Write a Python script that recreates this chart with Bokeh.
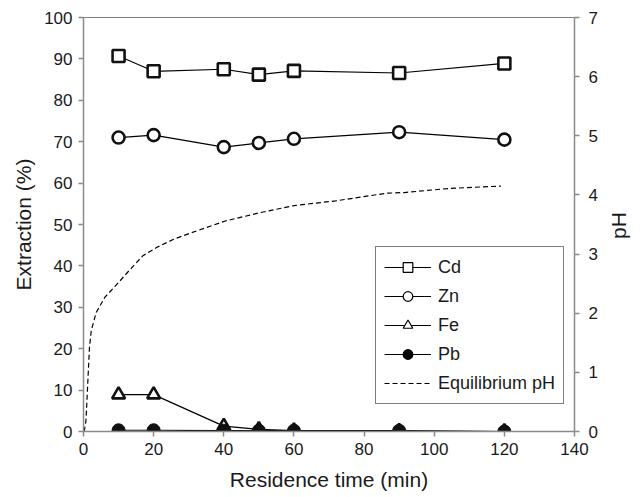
import math
from bokeh.plotting import figure
from bokeh.models import (Range1d, LinearAxis, Legend, LegendItem, Span,
                          ColumnDataSource, FixedTicker, Label)
from bokeh.embed import file_html
from bokeh.resources import INLINE

# ---- data ----
time_min = [10, 20, 40, 50, 60, 90, 120]
cd = [90.7, 87.0, 87.5, 86.2, 87.1, 86.6, 88.9]
zn = [71.0, 71.6, 68.7, 69.7, 70.7, 72.3, 70.5]
fe = [8.9, 8.9, 1.3, 0.5, 0.2, 0.1, 0.0]
pb = [0.3, 0.3, 0.2, 0.2, 0.2, 0.2, 0.0]

ph_time = [0.2, 0.7, 1.7, 2.2, 3.6, 6.1, 10.0, 13.0, 16.9, 20.8, 25.7, 30.7,
           36.6, 40.5, 50.3, 60.1, 71.9, 86.6, 91.5, 104.3, 119.0]
ph_value = [0.0, 0.18, 1.42, 1.70, 2.01, 2.27, 2.52, 2.72, 2.97, 3.11, 3.25,
            3.36, 3.48, 3.56, 3.70, 3.82, 3.90, 4.03, 4.04, 4.11, 4.15]

x_ticks = [0, 20, 40, 60, 80, 100, 120, 140]
y_ticks = [0, 10, 20, 30, 40, 50, 60, 70, 80, 90, 100]
ph_ticks = [0, 1, 2, 3, 4, 5, 6, 7]

FONT = "Liberation Sans"
AXIS_GREY = "#8a8a8a"

p = figure(width=643, height=497, output_backend="svg", toolbar_location=None,
           x_range=Range1d(0, 140), y_range=Range1d(0, 100),
           min_border_left=83, min_border_right=69, min_border_top=17,
           min_border_bottom=66)
p.extra_y_ranges = {"ph": Range1d(0, 7)}
p.outline_line_color = None
p.xgrid.visible = False
p.ygrid.visible = False
p.background_fill_color = "white"
p.border_fill_color = "white"

def style_axis(ax, standoff, label_standoff):
    ax.axis_line_color = AXIS_GREY
    ax.axis_line_width = 1.5
    ax.major_tick_line_color = AXIS_GREY
    ax.major_tick_line_width = 1.5
    ax.major_tick_out = 5
    ax.major_tick_in = 0
    ax.minor_tick_line_color = None
    ax.major_label_text_font = FONT
    ax.major_label_text_font_size = "17px"
    ax.major_label_text_color = "#1a1a1a"
    ax.major_label_standoff = standoff
    ax.axis_label_text_font = FONT
    ax.axis_label_text_font_size = "21px"
    ax.axis_label_text_font_style = "normal"
    ax.axis_label_text_color = "#1a1a1a"
    ax.axis_label_standoff = label_standoff

xa = p.xaxis[0]
xa.ticker = FixedTicker(ticks=x_ticks)
xa.axis_label = "Residence time (min)"
style_axis(xa, 6, 10)

ya = p.yaxis[0]
ya.ticker = FixedTicker(ticks=y_ticks)
ya.axis_label = "Extraction (%)"
style_axis(ya, 6, 6)

ra = LinearAxis(y_range_name="ph", ticker=FixedTicker(ticks=ph_ticks))
style_axis(ra, 9, 11)
p.add_layout(ra, "right")

# right axis title, reading bottom-to-top
p.add_layout(Label(x=18, y=206, x_units="screen", y_units="screen",
                   text="pH", angle=math.pi / 2, text_align="center",
                   text_baseline="middle", text_font=FONT,
                   text_font_size="21px", text_color="#1a1a1a"), "right")

# top black border
p.add_layout(Span(location=100, dimension="width", line_color="black",
                  line_width=1))

# ---- series ----
src = ColumnDataSource(dict(t=time_min, cd=cd, zn=zn, fe=fe, pb=pb))

ph_r = p.line(ph_time, ph_value, y_range_name="ph", line_color="black",
              line_width=1.2, line_dash="5 3")

for col in ["cd", "zn", "fe", "pb"]:
    p.line("t", col, source=src, line_color="black", line_width=1.2)

p.scatter("t", "cd", source=src, marker="square", size=12,
          fill_color="white", line_color="#111111", line_width=2.6)
p.scatter("t", "zn", source=src, marker="circle", size=12,
          fill_color="white", line_color="#111111", line_width=2.6)
p.scatter("t", "fe", source=src, marker="triangle", size=13,
          fill_color="white", line_color="#111111", line_width=2.6)
p.scatter("t", "pb", source=src, marker="circle", size=13,
          fill_color="#111111", line_color="#111111", line_width=1)

# legend-only renderers (no visible data)
nan = float("nan")
lsrc = ColumnDataSource(dict(x=[nan], y=[nan]))
def leg(marker, fill):
    ln = p.line("x", "y", source=lsrc, line_color="black", line_width=1)
    sc = p.scatter("x", "y", source=lsrc, marker=marker, fill_color=fill,
                   line_color="black", line_width=1.2)
    return [ln, sc]

items = [
    LegendItem(label="Cd", renderers=leg("square", "white")),
    LegendItem(label="Zn", renderers=leg("circle", "white")),
    LegendItem(label="Fe", renderers=leg("triangle", "white")),
    LegendItem(label="Pb", renderers=leg("circle", "black")),
    LegendItem(label="Equilibrium pH", renderers=[ph_r]),
]
legend = Legend(items=items, location=(292, 27), margin=0, padding=8,
                spacing=5, glyph_width=47, glyph_height=24, label_height=24,
                label_standoff=7, label_text_font=FONT,
                label_text_font_size="18px", label_text_color="#1a1a1a",
                border_line_color="black", border_line_width=1,
                background_fill_color="white", background_fill_alpha=1)
p.add_layout(legend, "center")

open("out.html", "w").write(file_html(p, INLINE))
